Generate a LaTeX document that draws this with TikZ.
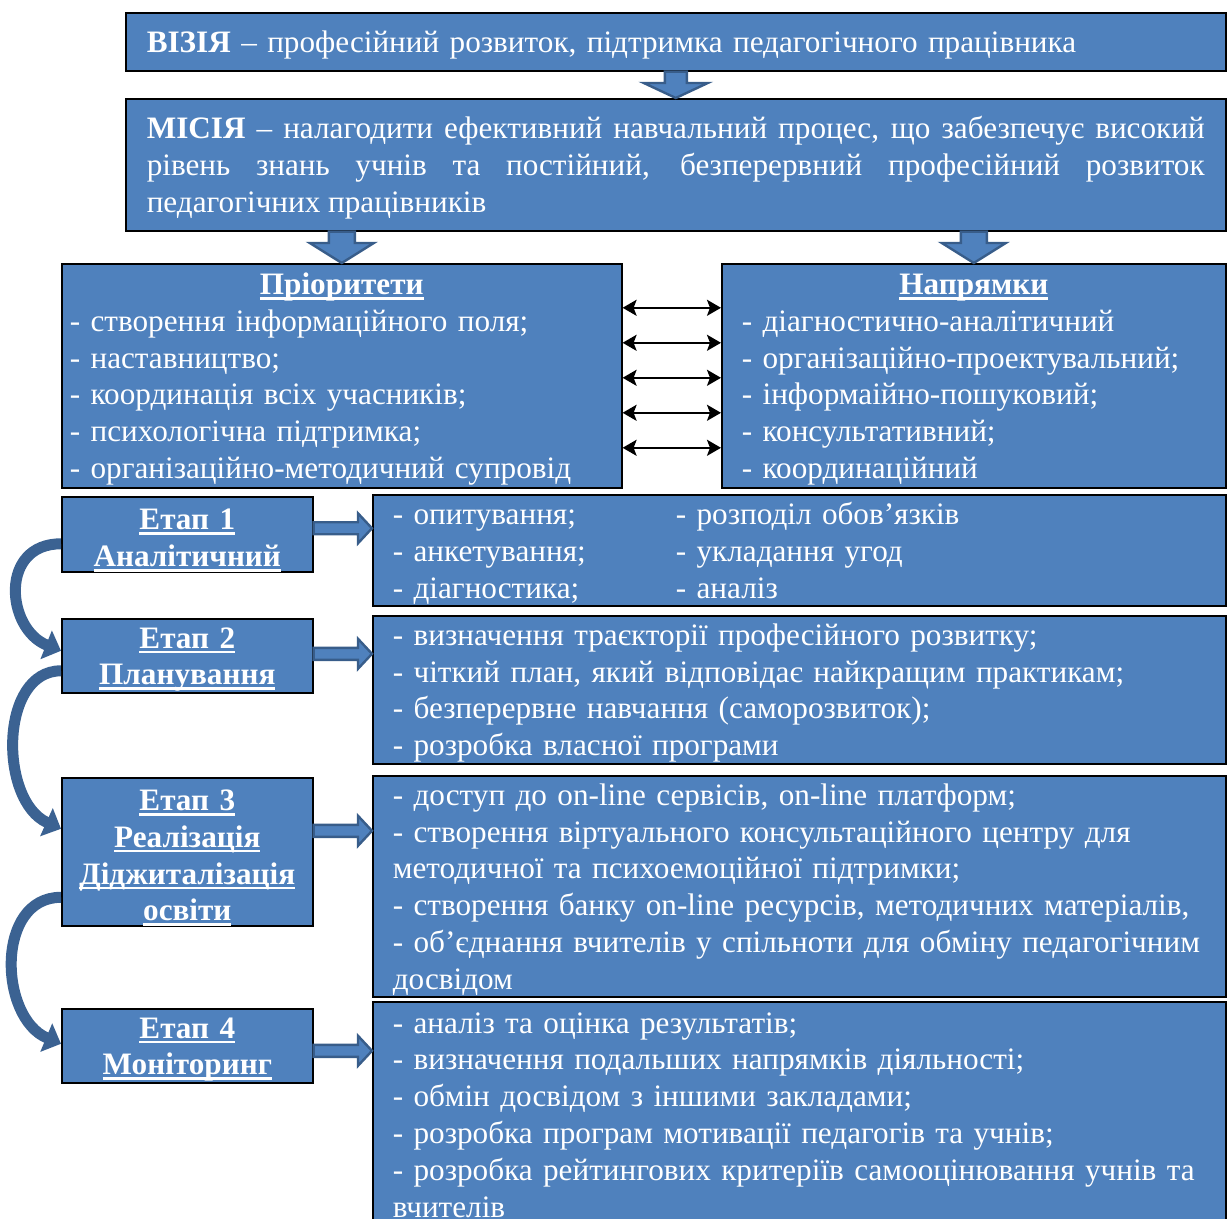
\documentclass[tikz,border=0pt]{standalone}
\usepackage{fontspec}
\setmainfont{Liberation Serif}
\usepackage{tikz}
\usetikzlibrary{arrows.meta,calc}

\definecolor{boxblue}{HTML}{4F81BD}
\definecolor{edgeblue}{HTML}{385D8A}

\newcommand{\titleline}[1]{\leavevmode\setbox0\hbox{#1}\rlap{\smash{\rule[-2.6pt]{\wd0}{1.3pt}}}\box0}
\newcommand{\liftline}{\rule{0pt}{14pt}}
\newcommand{\blockdown}[5]{\filldraw[blockarrow] ($(#1)+(-#3,0)$) -- ($(#2)+(-#3,#5)$) -- ($(#2)+(-#4,#5)$) -- (#2)
  -- ($(#2)+(#4,#5)$) -- ($(#2)+(#3,#5)$) -- ($(#1)+(#3,0)$) -- cycle;}
\newcommand{\blockright}[5]{\filldraw[blockarrow] ($(#1)+(0,#3)$) -- ($(#2)+(-#5,#3)$) -- ($(#2)+(-#5,#4)$) -- (#2)
  -- ($(#2)+(-#5,-#4)$) -- ($(#2)+(-#5,-#3)$) -- ($(#1)+(0,-#3)$) -- cycle;}

\begin{document}
\begin{tikzpicture}[x=0.5pt,y=0.5pt,font=\fontsize{15.6}{18.4}\selectfont,
  >={Stealth[length=7pt,width=8pt,inset=1.5pt]}]
  \tikzstyle{box}=[draw=black,line width=0.8pt,fill=boxblue,text=white,anchor=north west,
    inner ysep=0pt,align=left,execute at begin node=\liftline]
  \tikzstyle{stagebox}=[box,align=center,font=\fontsize{15.6}{18.4}\selectfont\bfseries,
    minimum width=125.5pt,text width=123pt,inner xsep=1.25pt]
  \tikzstyle{listbox}=[box,minimum width=426.5pt,text width=406.5pt,inner xsep=10pt]
  \tikzstyle{blockarrow}=[fill=boxblue,draw=edgeblue,line width=1.2pt,line join=miter]
  \tikzstyle{curvearrow}=[draw=edgeblue!85!boxblue,line width=5.5pt,
    -{Triangle[length=8pt,width=15pt]}]
  \tikzstyle{pairarrow}=[<->,black,line width=1pt]

  \useasboundingbox (0,0) rectangle (1227,-1219);

  \node[box,minimum width=550pt,minimum height=29pt,text width=529pt,inner xsep=10.5pt]
    (vis) at (125,-12) {\textbf{ВІЗІЯ} – професійний розвиток, підтримка педагогічного працівника};
  \node[box,align=justify,minimum width=550pt,minimum height=66pt,text width=529pt,inner xsep=10.5pt]
    (mis) at (125,-98) {\textbf{МІСІЯ} – налагодити ефективний навчальний процес, що забезпечує високий\linebreak
    рівень знань учнів та постійний, безперервний професійний розвиток\linebreak
    педагогічних працівників};

  \node[box,minimum width=280pt,minimum height=112pt,text width=272pt,inner xsep=4pt]
    (pri) at (61,-263) {\makebox[\hsize]{\titleline{\textbf{Пріоритети}}}\\
    - створення інформаційного поля;\\
    - наставництво;\\
    - координація всіх учасників;\\
    - психологічна підтримка;\\
    - організаційно-методичний супровід};
  \node[box,minimum width=252pt,minimum height=112pt,text width=232pt,inner xsep=10pt]
    (dir) at (721,-263) {\makebox[\hsize]{\titleline{\textbf{Напрямки}}}\\
    - діагностично-аналітичний\\
    - організаційно-проектувальний;\\
    - інформаійно-пошуковий;\\
    - консультативний;\\
    - координаційний};

  \node[stagebox,minimum height=37.5pt] (s1) at (61,-496) {\titleline{Етап 1}\\\titleline{Аналітичний}};
  \node[stagebox,minimum height=37pt] (s2) at (61,-618) {\titleline{Етап 2}\\\titleline{Планування}};
  \node[stagebox,minimum height=74pt] (s3) at (61,-777) {\titleline{Етап 3}\\\titleline{Реалізація}\\
    \titleline{Діджиталізація}\\\titleline{освіти}};
  \node[stagebox,minimum height=37pt] (s4) at (61,-1008) {\titleline{Етап 4}\\\titleline{Моніторинг}};

  \node[listbox,minimum height=55.5pt] (r1) at (372,-494) {\makebox[141.5pt][l]{- опитування;}- розподіл обов’язків\\
    \makebox[141.5pt][l]{- анкетування;}- укладання угод\\
    \makebox[141.5pt][l]{- діагностика;}- аналіз};
  \node[listbox,minimum height=74pt] (r2) at (372,-615) {- визначення траєкторії професійного розвитку;\\
    - чіткий план, який відповідає найкращим практикам;\\
    - безперервне навчання (саморозвиток);\\
    - розробка власної програми};
  \node[listbox,minimum height=110.5pt] (r3) at (372,-775) {- доступ до on-line сервісів, on-line платформ;\\
    - створення віртуального консультаційного центру для\\
    методичної та психоемоційної підтримки;\\
    - створення банку on-line ресурсів, методичних матеріалів,\\
    - об’єднання вчителів у спільноти для обміну педагогічним\\
    досвідом};
  \node[listbox,minimum height=109.5pt] (r4) at (372,-1001) {- аналіз та оцінка результатів;\\
    - визначення подальших напрямків діяльності;\\
    - обмін досвідом з іншими закладами;\\
    - розробка програм мотивації педагогів та учнів;\\
    - розробка рейтингових критеріїв самооцінювання учнів та\\
    вчителів};

  \blockdown{vis.south}{mis.north}{11}{32}{15}
  \coordinate (m1) at (pri.north |- mis.south);
  \coordinate (m2) at (dir.north |- mis.south);
  \blockdown{m1}{pri.north}{13}{32}{20}
  \blockdown{m2}{dir.north}{13}{32}{20}

  \path[pairarrow]
  ([yshift=34pt]pri.east) edge ([yshift=34pt]dir.west)
  ([yshift=16.5pt]pri.east) edge ([yshift=16.5pt]dir.west)
  ([yshift=-1pt]pri.east) edge ([yshift=-1pt]dir.west)
  ([yshift=-18.5pt]pri.east) edge ([yshift=-18.5pt]dir.west)
  ([yshift=-36pt]pri.east) edge ([yshift=-36pt]dir.west)
  ;

  \coordinate (e1) at ([yshift=3pt]s1.east);
  \coordinate (e2) at ([yshift=1pt]s2.east);
  \coordinate (e3) at ([yshift=10.5pt]s3.east);
  \coordinate (e4) at ([yshift=-2.5pt]s4.east);
  \blockright{e1}{e1 -| r1.west}{6}{15}{14}
  \blockright{e2}{e2 -| r2.west}{6}{15}{14}
  \blockright{e3}{e3 -| r3.west}{6}{15}{14}
  \blockright{e4}{e4 -| r4.west}{6}{15}{14}

  \draw[curvearrow] ([yshift=-4.75pt]s1.west) .. controls +(-62,0) and +(-55,22) .. ([yshift=2.5pt]s2.west);
  \draw[curvearrow] ([yshift=-7.5pt]s2.west) .. controls +(-62,0) and +(-62,28) .. ([yshift=11.5pt]s3.west);
  \draw[curvearrow] ([yshift=-22.75pt]s3.west) .. controls +(-66,0) and +(-62,26) .. ([yshift=1pt]s4.west);
\end{tikzpicture}
\end{document}
